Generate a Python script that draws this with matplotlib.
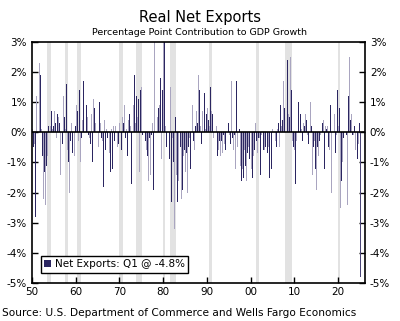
import matplotlib
matplotlib.use("Agg")
import matplotlib.pyplot as plt
import numpy as np
from matplotlib.ticker import FuncFormatter

# quarterly net exports contribution to GDP growth, 1950Q1 - 2025Q1 (pp)
net_exports = [
    0.1, -0.5, -0.4, -2.8,   # 1950
    1.2, 0.8, 2.3, 1.9,      # 1951
    0.1, -0.8, -2.2, -1.3,   # 1952
    -2.4, -1.1, -0.8, 0.2,   # 1953
    0.2, 0.7, 0.1, 0.2,      # 1954
    0.7, 0.3, -0.2, 0.6,     # 1955
    0.5, 0.3, -1.4, -0.4,    # 1956
    1.2, 0.5, 0.1, 1.6,      # 1957
    -0.6, -1.0, -2.0, -0.3,  # 1958
    0.3, -0.7, -0.8, 0.2,    # 1959
    0.9, 0.7, -0.3, 1.4,     # 1960
    -1.0, -0.2, 0.4, 1.7,    # 1961
    0.4, 0.9, 0.5, -0.1,     # 1962
    -0.2, -0.4, 0.6, -1.0,   # 1963
    1.1, 0.8, 0.3, 0.0,      # 1964
    -0.5, 1.0, 0.3, -0.2,    # 1965
    -0.3, -1.8, 0.4, -0.6,   # 1966
    0.1, -0.2, -0.7, -1.3,   # 1967
    0.1, -1.2, 0.2, -0.3,    # 1968
    0.2, 0.0, -0.5, -0.4,    # 1969
    0.3, -0.6, 0.5, 0.3,     # 1970
    0.9, -0.2, 0.1, -0.8,    # 1971
    0.4, 0.6, 0.2, -1.7,     # 1972
    0.9, 1.9, 0.3, 1.2,      # 1973
    0.5, 1.1, -1.3, 1.4,     # 1974
    1.5, -0.1, -2.8, -0.3,   # 1975
    -0.6, -0.8, -1.6, -0.2,  # 1976
    -1.4, -0.1, 0.3, -1.9,   # 1977
    3.0, -0.6, 0.5, 0.8,     # 1978
    0.9, 1.8, -0.9, 1.4,     # 1979
    3.0, 3.0, 0.2, -0.5,     # 1980
    -0.3, -0.9, 1.5, -2.3,   # 1981
    -0.2, -1.0, -3.2, 0.5,   # 1982
    -1.4, -2.3, -1.6, -0.5,  # 1983
    -2.2, -1.9, -0.8, -0.6,  # 1984
    -1.3, -0.7, -2.0, -0.5,  # 1985
    -0.2, -1.2, 0.9, -0.3,   # 1986
    -0.6, 0.2, 0.7, 0.3,     # 1987
    1.9, 1.4, 0.2, -0.4,     # 1988
    0.7, 1.3, 0.1, 0.6,      # 1989
    0.8, 0.4, 0.2, 1.5,      # 1990
    0.7, 0.6, -0.2, 0.6,     # 1991
    0.2, -0.8, -0.6, -0.3,   # 1992
    -0.8, -0.3, -0.7, -0.1,  # 1993
    -0.4, -0.6, -0.9, 0.3,   # 1994
    -0.1, -0.4, 1.7, -0.2,   # 1995
    -0.6, -0.1, -1.2, 1.7,   # 1996
    -0.5, 0.1, -1.1, -1.6,   # 1997
    -1.2, -1.5, -0.6, -1.1,  # 1998
    -1.6, -0.7, -0.5, -0.9,  # 1999
    -1.2, -1.5, -0.8, -0.6,  # 2000
    0.3, -0.3, -0.7, -0.2,   # 2001
    -0.2, -1.4, -0.1, -0.6,  # 2002
    -0.6, -0.5, 0.0, -0.7,   # 2003
    -0.5, -1.5, 0.0, -1.2,   # 2004
    0.1, 0.5, -0.3, -0.5,    # 2005
    0.1, 0.3, -0.5, 0.9,     # 2006
    0.2, 0.4, 1.7, 0.8,      # 2007
    0.9, 2.4, 0.6, 0.5,      # 2008
    2.5, 1.4, -0.3, -0.5,    # 2009
    -0.6, -1.7, -0.3, 1.0,   # 2010
    0.0, 0.6, 0.1, -0.3,     # 2011
    0.3, 0.2, 0.6, 0.4,      # 2012
    -0.1, -0.4, 1.0, 0.2,    # 2013
    -1.4, -0.5, -0.3, -1.2,  # 2014
    -1.9, -0.5, -0.8, -0.3,  # 2015
    -0.1, 0.3, 0.4, -1.2,    # 2016
    0.2, 0.1, 0.2, -0.5,     # 2017
    -0.6, 0.9, -2.0, -0.4,   # 2018
    0.6, -0.7, -0.1, 1.4,    # 2019
    0.2, 0.8, -2.5, -1.6,    # 2020
    -1.0, -0.2, -1.2, -0.1,  # 2021
    -2.4, 1.2, 2.5, 0.4,     # 2022
    0.6, -0.1, -0.1, 0.2,    # 2023
    -0.6, -0.9, -0.4, 0.3,   # 2024
    -4.8,                    # 2025
]

recessions = [(1953.5, 1954.4), (1957.6, 1958.3), (1960.3, 1961.1),
              (1969.9, 1970.9), (1973.9, 1975.2), (1980.0, 1980.5),
              (1981.5, 1982.9), (1990.5, 1991.2), (2001.2, 2001.9),
              (2007.9, 2009.5), (2020.1, 2020.4)]

dark = "#2B2661"
light = "#A9A5C0"

x = 1950 + np.arange(len(net_exports)) * 0.25 + 0.125
colors = [dark if i % 2 else light for i in range(len(net_exports))]
colors[-1] = "#4A4578"  # latest quarter

fig = plt.figure(figsize=(4.0, 3.21), dpi=100)
ax = fig.add_axes([0.08, 0.1184, 0.8325, 0.7508])

for a, b in recessions:
    ax.axvspan(a, b, color="#E2E2E2", lw=0, zorder=0)

ax.bar(x, net_exports, width=0.22, color=colors, zorder=2)
ax.bar([0], [0], color=dark, label="Net Exports: Q1 @ -4.8%")
ax.axhline(0, color="black", lw=1.2, zorder=3)

ax.set_xlim(1950, 2026.2)
ax.set_ylim(-5, 3)
ax.set_xticks(np.arange(1950, 2021, 10))
ax.xaxis.set_major_formatter(FuncFormatter(lambda v, p: "%02d" % (int(v) % 100)))
ax.set_yticks(np.arange(-5, 4, 1))
ax.yaxis.set_major_formatter(FuncFormatter(lambda v, p: "%d%%" % v))
ax.tick_params(direction="in", length=4, width=1, labelsize=7.5, right=True, labelright=True)
ax.tick_params(axis="x", pad=3)
for s in ax.spines.values():
    s.set_linewidth(1.2)

leg = ax.legend(loc="lower left", fontsize=7.5, frameon=True, fancybox=False,
                handlelength=0.7, handleheight=0.7, handletextpad=0.3,
                borderpad=0.35, bbox_to_anchor=(0.01, 0.02))
leg.get_frame().set_edgecolor("black")
leg.get_frame().set_linewidth(1)
leg.get_frame().set_alpha(1)

fig.text(0.5, 0.945, "Real Net Exports", ha="center", va="center", fontsize=10.5)
fig.text(0.5, 0.898, "Percentage Point Contribution to GDP Growth", ha="center", va="center", fontsize=6.8)
fig.text(0.005, 0.025, "Source: U.S. Department of Commerce and Wells Fargo Economics",
         ha="left", va="center", fontsize=7.6)

fig.savefig("out.png", dpi=100)
